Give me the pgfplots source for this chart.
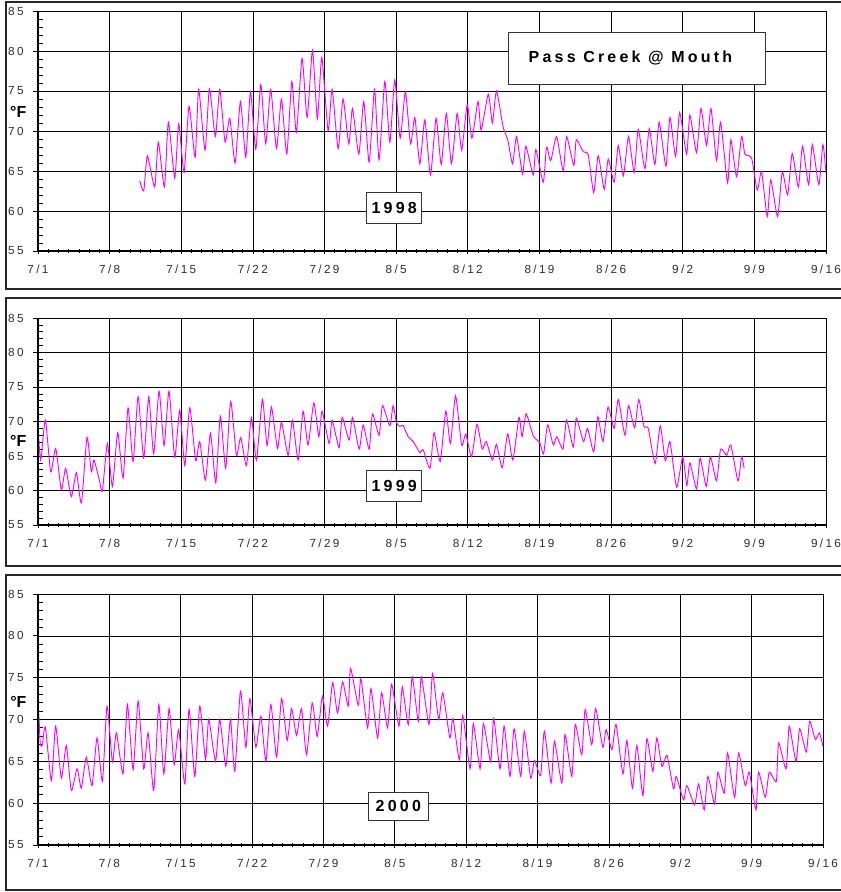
\documentclass[border=0pt]{standalone}
\usepackage{fontspec}
\setmainfont{Liberation Sans}
\newfontfamily\spaced{Liberation Sans}[LetterSpace=20]
\usepackage{pgfplots}
\usepackage{pgfplotstable}
\pgfplotsset{compat=1.18}
\definecolor{mag}{RGB}{255,0,255}
\definecolor{lab}{RGB}{45,45,45}

\pgfplotstableread{
x y
9.94 63.8
10.33 62.5
10.69 66.9
11.40 63.0
11.76 68.6
12.35 63.0
12.74 71.1
13.36 64.1
13.75 70.9
14.27 64.8
14.76 73.1
15.35 66.7
15.70 75.2
16.32 67.6
16.75 75.3
17.33 69.3
17.76 75.2
18.28 68.6
18.74 71.6
19.26 66.0
19.78 73.7
20.30 66.7
20.76 74.9
21.28 67.7
21.77 75.8
22.25 68.4
22.74 75.2
23.30 67.8
23.79 74.0
24.31 67.1
24.80 76.2
25.25 69.8
25.80 79.1
26.30 71.7
26.82 80.1
27.30 71.5
27.73 79.2
28.35 70.0
28.74 75.2
29.33 67.8
29.81 74.0
30.37 68.4
30.73 72.8
31.35 67.1
31.83 73.7
32.36 66.1
32.88 75.2
33.33 66.4
33.89 76.2
34.38 68.6
34.86 76.4
35.39 69.1
35.90 74.9
36.40 68.4
36.82 71.7
37.31 65.9
37.80 71.4
38.35 64.5
38.90 71.6
39.40 65.8
39.90 72.2
40.40 65.9
40.96 72.2
41.40 67.6
41.94 73.3
42.40 69.1
43.00 73.7
43.30 70.1
44.00 74.6
44.40 71.0
44.80 75.0
45.45 70.5
45.90 68.9
46.37 65.9
46.76 69.3
47.35 64.6
47.67 68.1
48.39 64.5
48.65 67.7
49.37 63.6
49.69 68.0
50.10 66.3
50.67 69.3
51.32 65.0
51.65 69.3
52.36 65.7
52.60 68.9
53.28 67.4
53.77 67.0
54.30 62.3
54.74 66.9
55.33 62.7
55.72 66.5
56.30 63.6
56.70 68.2
57.20 64.4
57.70 69.3
58.26 64.8
58.65 70.2
59.30 65.3
59.73 70.3
60.28 65.8
60.70 71.1
61.36 65.6
61.75 71.7
62.30 66.8
62.70 72.3
63.38 67.1
63.70 72.0
64.35 67.3
64.78 72.8
65.33 68.2
65.76 72.8
66.30 66.3
66.70 71.1
67.38 63.5
67.70 68.9
68.26 64.3
68.75 69.3
69.08 67.1
69.73 66.6
70.28 62.6
70.70 64.9
71.26 59.3
71.60 63.9
72.27 59.3
72.73 64.9
73.25 62.0
73.70 67.2
74.30 63.0
74.70 68.1
75.30 63.3
75.66 68.3
76.30 63.3
76.70 68.3
77.00 64.7
}\dataA

\pgfplotstableread{
x y
0.00 69.3
0.26 64.4
0.72 70.2
1.24 62.7
1.73 66.1
2.28 60.1
2.70 63.2
3.26 59.1
3.75 62.6
4.24 58.2
4.79 67.7
5.21 62.7
5.47 64.4
6.00 61.5
6.29 59.9
6.78 66.8
7.27 60.6
7.79 68.4
8.31 61.8
8.80 72.0
9.29 64.2
9.78 73.6
10.33 64.7
10.82 73.6
11.30 65.3
11.83 74.4
12.32 66.5
12.80 74.4
13.36 64.8
13.85 71.7
14.34 63.6
14.83 72.0
15.41 64.3
15.80 67.1
16.36 61.5
16.85 68.3
17.37 61.1
17.82 70.8
18.34 63.2
18.83 72.9
19.39 65.1
19.81 67.7
20.37 63.6
20.85 70.6
21.34 64.4
21.93 73.2
22.38 66.5
22.81 72.1
23.40 66.1
23.79 69.9
24.44 65.1
24.86 70.2
25.42 64.4
25.90 71.5
26.39 66.6
26.95 72.7
27.44 67.8
27.76 71.5
28.45 66.8
28.74 70.2
29.42 66.2
29.72 70.6
30.40 67.3
30.73 70.6
31.38 66.0
31.77 69.5
32.36 66.0
32.68 71.1
33.33 68.0
33.66 72.3
34.38 69.4
34.70 72.3
35.03 69.8
35.35 69.3
35.69 69.4
36.17 67.8
36.66 67.1
37.31 65.5
37.64 65.9
38.30 63.2
38.70 68.4
39.30 64.2
39.85 71.5
40.30 66.8
40.80 73.7
41.40 66.6
41.80 68.2
42.36 64.9
42.90 69.6
43.40 66.0
43.80 67.1
44.40 64.4
44.80 66.7
45.36 63.3
45.90 68.2
46.40 64.4
47.00 70.6
47.30 67.8
47.70 71.1
48.40 67.9
49.04 66.9
49.40 65.3
49.80 69.5
50.35 66.6
50.70 67.8
51.30 66.0
51.65 70.2
52.30 66.3
52.60 70.5
53.30 67.1
53.70 69.0
54.30 65.6
54.70 70.7
55.20 67.1
55.70 72.1
56.30 69.0
56.70 73.2
57.35 68.0
57.70 72.3
58.30 69.1
58.70 73.2
59.21 69.3
59.63 69.0
60.30 63.9
60.80 69.4
61.30 64.3
61.75 67.1
62.40 60.5
63.00 64.9
63.40 60.7
63.70 64.0
64.35 60.2
64.70 64.7
65.30 60.6
65.70 64.9
66.30 61.4
66.70 66.0
67.30 65.1
67.70 66.6
68.40 61.4
68.75 64.9
69.00 63.2
}\dataB

\pgfplotstableread{
x y
0.00 72.2
0.10 70.2
0.23 67.0
0.43 67.0
0.72 69.1
1.31 62.7
1.73 69.2
2.29 63.0
2.78 66.9
3.27 61.5
3.83 64.1
4.25 61.8
4.74 65.5
5.30 62.1
5.79 67.8
6.32 62.6
6.77 71.6
7.30 64.9
7.69 68.4
8.34 63.5
8.77 71.8
9.33 64.0
9.82 72.2
10.37 64.1
10.80 68.4
11.35 61.5
11.85 71.8
12.34 63.5
12.86 71.3
13.35 64.6
13.80 68.8
14.40 62.3
14.82 71.2
15.38 63.2
15.87 71.6
16.43 65.2
16.75 70.0
17.41 65.0
17.83 70.0
18.42 64.4
18.88 70.0
19.30 63.8
19.86 73.4
20.39 66.7
20.78 72.5
21.37 66.7
21.86 70.4
22.35 65.0
22.84 71.8
23.40 65.5
23.89 72.5
24.44 67.5
24.87 71.3
25.36 68.1
25.85 71.3
26.34 65.8
26.90 72.0
27.39 68.0
27.90 72.8
28.40 69.2
28.90 74.4
29.38 70.8
29.88 74.5
30.43 71.6
30.66 76.1
31.41 71.7
31.67 74.9
32.33 69.0
32.66 73.7
33.31 67.8
33.70 73.2
34.29 69.0
34.69 74.2
35.40 69.2
35.73 73.9
36.32 69.4
36.71 75.1
37.30 69.8
37.60 75.1
38.35 69.4
38.70 75.5
39.30 70.0
39.70 73.2
40.40 67.8
40.70 70.1
41.33 65.2
41.66 70.5
42.38 64.1
42.70 69.5
43.36 64.1
43.69 69.5
44.40 65.0
44.70 70.1
45.32 64.1
45.72 69.2
46.30 63.2
46.70 68.9
47.35 63.2
47.70 68.6
48.33 63.0
48.70 65.1
49.30 63.3
49.67 68.6
50.33 62.4
50.66 67.4
51.38 62.4
51.70 68.2
52.36 63.2
52.70 69.4
53.34 65.8
53.67 71.2
54.32 67.0
54.70 71.3
55.40 66.7
55.73 68.8
56.30 66.4
56.70 69.4
57.37 63.5
57.76 67.5
58.31 61.8
58.74 66.9
59.33 60.9
59.72 67.7
60.31 63.8
60.70 67.8
61.20 64.4
61.70 65.7
62.34 61.7
62.60 63.2
63.32 60.4
63.65 62.1
64.40 59.8
64.80 62.3
65.35 59.2
65.71 63.2
66.36 59.9
66.69 63.7
67.31 61.2
67.64 66.0
68.33 60.7
68.72 66.0
69.37 62.1
69.77 63.7
70.42 59.2
70.68 63.7
71.34 60.7
71.73 63.7
72.42 62.6
72.65 67.2
73.37 64.1
73.69 69.2
74.35 65.0
74.71 68.9
75.36 66.1
75.69 69.8
76.25 67.6
76.64 68.4
77.00 66.8
}\dataC

\pgfplotsset{
  panel/.style={
    scale only axis,
    xmin=0, xmax=77, ymin=55, ymax=85,
    xtick={0,7,...,77},
    xticklabels={7/1,7/8,7/15,7/22,7/29,8/5,8/12,8/19,8/26,9/2,9/9,9/16},
    ytick={55,60,...,85},
    minor x tick num=6,
    minor y tick num=4,
    tick pos=left,
    xmajorgrids, ymajorgrids,
    major grid style={black, line width=0.5pt},
    axis line style={black, line width=0.6pt},
    xtick align=center,
    ytick align=outside,
    major tick length=3.75pt,
    minor tick length=3.5pt,
    tick style={black, line width=0.6pt},
    minor y tick style={xshift=3.5pt},
    /pgf/number format/assume math mode=true,
    ticklabel style={font=\spaced\fontsize{8.8}{10}\selectfont, text=lab},
    xticklabel style={yshift=-5pt},
    yticklabel style={xshift=-3.5pt},
    clip mode=individual,
  },
}
\tikzset{
  yearbox/.style={draw=black!80, fill=white, line width=0.7pt,
    minimum width=41.25pt, minimum height=23.25pt, inner sep=0pt,
    font=\spaced\bfseries\fontsize{12}{13}\selectfont},
  degF/.style={font=\bfseries\fontsize{12}{13}\selectfont, anchor=center, inner sep=1pt},
  dataline/.style={mag, line width=0.7pt, smooth, tension=0.35},
}

\begin{document}
\begin{tikzpicture}
\useasboundingbox (0pt,0pt) rectangle (630.75pt,-669pt);
% outer frames
\draw[black!85, line width=1.2pt] (4.5pt,-1.5pt) rectangle (640pt,-216.75pt);
\draw[black!85, line width=1.2pt] (4.5pt,-223.5pt) rectangle (640pt,-424.5pt);
\draw[black!85, line width=1.2pt] (4.5pt,-431.25pt) rectangle (640pt,-667.5pt);

% 1998
\begin{axis}[panel, at={(28.5pt,-188.25pt)}, anchor=south west, width=591pt, height=180pt]
\addplot[dataline] table[x=x,y=y] {\dataA};
\draw[black, line width=1.5pt] (rel axis cs:0,0) -- (rel axis cs:1,0);
\draw[black, line width=1.5pt] (rel axis cs:0,0) -- (rel axis cs:0,1);
\node[yearbox] at (rel axis cs:0.452,0.181) {1998};
\node[draw=black!80, fill=white, line width=0.7pt, minimum width=192.75pt, minimum height=39pt] at (rel axis cs:0.7595,0.804) {};
\node[font=\spaced\bfseries\fontsize{12}{13}\selectfont] at ([xshift=-4.5pt]rel axis cs:0.7595,0.804) {Pass Creek @ Mouth};
\node[degF] at (rel axis cs:-0.025,0.579) {°F};
\end{axis}

% 1999
\begin{axis}[panel, at={(28.5pt,-393.75pt)}, anchor=south west, width=591pt, height=155.25pt]
\addplot[dataline] table[x=x,y=y] {\dataB};
\draw[black, line width=1.5pt] (rel axis cs:0,0) -- (rel axis cs:1,0);
\draw[black, line width=1.5pt] (rel axis cs:0,0) -- (rel axis cs:0,1);
\node[yearbox] at (rel axis cs:0.452,0.188) {1999};
\node[degF] at (rel axis cs:-0.025,0.405) {°F};
\end{axis}

% 2000
\begin{axis}[panel, at={(28.5pt,-633.75pt)}, anchor=south west, width=588.75pt, height=188.25pt]
\addplot[dataline] table[x=x,y=y] {\dataC};
\draw[black, line width=1.5pt] (rel axis cs:0,0) -- (rel axis cs:1,0);
\draw[black, line width=1.5pt] (rel axis cs:0,0) -- (rel axis cs:0,1);
\node[yearbox, minimum width=45pt, minimum height=21pt] at (rel axis cs:0.459,0.155) {2000};
\node[degF] at (rel axis cs:-0.025,0.57) {°F};
\end{axis}
\end{tikzpicture}
\end{document}
